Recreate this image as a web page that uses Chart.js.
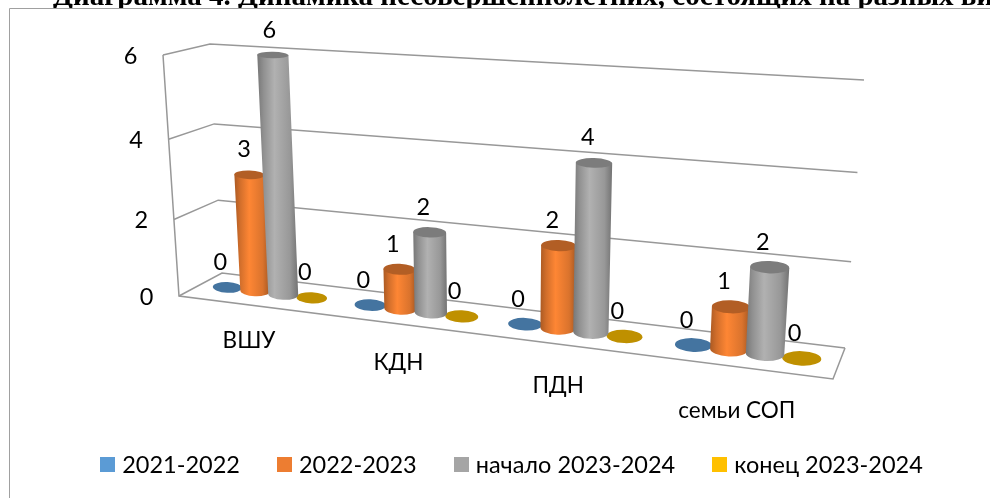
<!DOCTYPE html>
<html lang="ru">
<head>
<meta charset="utf-8">
<style>html,body{margin:0;padding:0;background:#fff}canvas{display:block}</style>
<script src="https://cdn.jsdelivr.net/npm/chart.js@4/dist/chart.umd.js"></script>
</head>
<body>
<canvas id="c" width="990" height="498"></canvas>
<script>
const categories = ['ВШУ', 'КДН', 'ПДН', 'семьи СОП'];
const series2122 = [0, 0, 0, 0];
const series2223 = [3, 1, 2, 1];
const seriesStart2324 = [6, 2, 4, 2];
const seriesEnd2324 = [0, 0, 0, 0];
const seriesNames = ['2021-2022', '2022-2023', 'начало 2023-2024', 'конец 2023-2024'];
const seriesColors = ['#5b9bd5', '#ed7d31', '#a5a5a5', '#ffc000'];
const yTicksStep = 2;
const yMax = 6;
const titleText = 'Диаграмма 4. Динамика несовершеннолетних, состоящих на разных видах учёта';

const FONT = 'Lato, "Open Sans", sans-serif';
const GRID = '#989898';
const labelNudgeX = [-20, -17, -16, -10];

// projective map from the unit square onto a quadrilateral (p00,p10,p11,p01)
function homography(p0, p1, p2, p3) {
  const sx = p0[0]-p1[0]+p2[0]-p3[0], sy = p0[1]-p1[1]+p2[1]-p3[1];
  const dx1 = p1[0]-p2[0], dx2 = p3[0]-p2[0], dy1 = p1[1]-p2[1], dy2 = p3[1]-p2[1];
  const det = dx1*dy2 - dx2*dy1;
  const g = (sx*dy2 - dx2*sy)/det, h = (dx1*sy - sx*dy1)/det;
  const a = p1[0]-p0[0]+g*p1[0], b = p3[0]-p0[0]+h*p3[0], c = p0[0];
  const d = p1[1]-p0[1]+g*p1[1], e = p3[1]-p0[1]+h*p3[1], f = p0[1];
  return (u, v) => {
    const w = g*u + h*v + 1;
    return {x: (a*u + b*v + c)/w, y: (d*u + e*v + f)/w};
  };
}
const backWall = homography([222,273],[845,348],[864,80],[210,44]);
const leftWall = homography([179,296],[222,273],[210,44],[163,55]);
const barPlane = homography([200,284],[839,363],[858,89],[186,50]);

function shade(hex, f) {
  const n = parseInt(hex.slice(1), 16);
  const ch = s => Math.min(255, Math.round(((n >> s) & 255)*f));
  return `rgb(${ch(16)},${ch(8)},${ch(0)})`;
}

let area = null;
const toU = px => (px - area.left)/(area.right - area.left);
const toV = py => (area.bottom - py)/(area.bottom - area.top);
const flat = v => 0.37 - 0.16*v;

function disc(a, b, v) {
  const cx = (a.x+b.x)/2, cy = (a.y+b.y)/2;
  const rx = Math.hypot(b.x-a.x, b.y-a.y)/2*1.05;
  const rot = Math.atan2(b.y-a.y, b.x-a.x)*0.35;
  return {cx, cy, rx, ry: rx*flat(v), rot,
    lx: cx - rx*Math.cos(rot), ly: cy - rx*Math.sin(rot),
    rx2: cx + rx*Math.cos(rot), ry2: cy + rx*Math.sin(rot)};
}

// Bars are drawn as perspective cylinders, using the element's own scale-derived geometry
const BarEl = Chart.registry.getElement('bar');
BarEl.prototype.draw = function (ctx) {
  const {x, y, base, width} = this.getProps(['x','y','base','width'], true);
  const color = this.options.backgroundColor;
  const uL = toU(x - width/2), uR = toU(x + width/2);
  const vT = toV(y), vB = toV(base);
  const be = disc(barPlane(uL, vB), barPlane(uR, vB), vB);
  const te = disc(barPlane(uL, vT), barPlane(uR, vT), vT);
  if (vT > vB + 1e-6) {
    const g = ctx.createLinearGradient(Math.min(be.lx,te.lx), 0, Math.max(be.rx2,te.rx2), 0);
    g.addColorStop(0, shade(color, .72));
    g.addColorStop(.16, shade(color, .88));
    g.addColorStop(.42, shade(color, 1.07));
    g.addColorStop(.8, shade(color, .92));
    g.addColorStop(1, shade(color, .7));
    ctx.beginPath();
    ctx.moveTo(te.lx, te.ly);
    ctx.lineTo(be.lx, be.ly);
    ctx.ellipse(be.cx, be.cy, be.rx, be.ry, be.rot, Math.PI, 0, true);
    ctx.lineTo(te.rx2, te.ry2);
    ctx.closePath();
    ctx.fillStyle = g;
    ctx.fill();
  }
  ctx.beginPath();
  ctx.ellipse(te.cx, te.cy, te.rx, te.ry, te.rot, 0, Math.PI*2);
  ctx.fillStyle = shade(color, .75);
  ctx.fill();
};

const scene = {
  id: 'scene',
  beforeDraw(chart) {
    area = chart.chartArea;
    const ctx = chart.ctx;
    ctx.save();
    ctx.fillStyle = '#fff';
    ctx.fillRect(0, 0, 990, 498);
    ctx.fillStyle = '#000';
    ctx.font = 'bold 29px "Liberation Serif", serif';
    ctx.textBaseline = 'alphabetic';
    ctx.textAlign = 'left';
    ctx.fillText(titleText, 53, 5);
    ctx.fillStyle = '#fff';
    ctx.fillRect(0, 8, 990, 490);
    ctx.strokeStyle = '#a0a0a0';
    ctx.lineWidth = 1;
    ctx.beginPath();
    ctx.moveTo(9.5, 498);
    ctx.lineTo(9.5, 8.5);
    ctx.lineTo(990, 8.5);
    ctx.stroke();
    ctx.restore();
  },
  beforeDatasetsDraw(chart) {
    const ctx = chart.ctx, yS = chart.scales.y, xS = chart.scales.x;
    ctx.save();
    ctx.strokeStyle = GRID;
    ctx.lineWidth = 1.5;
    ctx.lineJoin = 'miter';
    // walls: one slanted grid line per y tick
    yS.ticks.forEach(t => {
      const v = toV(yS.getPixelForValue(t.value));
      const a = leftWall(0, v), b = leftWall(1, v), c = backWall(1, v);
      ctx.beginPath();
      ctx.moveTo(a.x, a.y);
      ctx.lineTo(b.x, b.y);
      ctx.lineTo(c.x, c.y);
      ctx.stroke();
    });
    // front-left edge and floor outline
    const f0 = leftWall(0, 0), f1 = leftWall(0, 1);
    ctx.beginPath();
    ctx.moveTo(f1.x, f1.y);
    ctx.lineTo(f0.x, f0.y);
    const br = backWall(1, 0);
    ctx.lineTo(833, 379);
    ctx.lineTo(br.x, br.y);
    ctx.stroke();

    // y tick labels
    ctx.fillStyle = '#000';
    ctx.font = '23.5px ' + FONT;
    ctx.textAlign = 'center';
    ctx.textBaseline = 'middle';
    yS.ticks.forEach(t => {
      const v = toV(yS.getPixelForValue(t.value));
      const p = leftWall(0, v);
      ctx.fillText(String(t.value), p.x - 32.5, p.y + 1);
    });
    // category labels
    ctx.font = '22.5px ' + FONT;
    categories.forEach((name, i) => {
      const u = toU(xS.getPixelForValue(i));
      const p = barPlane(u, 0);
      ctx.fillText(name, p.x + labelNudgeX[i], p.y + 46 + 15*u);
    });

    // datasets, flat ones first so the cylinders sit on top
    [0, 3, 1, 2].forEach(i => {
      chart.getDatasetMeta(i).data.forEach(el => el.draw(ctx));
    });

    // value labels
    ctx.font = '23.5px ' + FONT;
    ctx.fillStyle = '#000';
    chart.data.datasets.forEach((ds, i) => {
      chart.getDatasetMeta(i).data.forEach((el, j) => {
        const u = toU(el.x), v = toV(el.y);
        const p = barPlane(u, v);
        ctx.fillText(String(ds.data[j]), p.x - 7 + 4*v*(1-u), p.y - 25);
      });
    });

    // legend
    const legendY = 465, boxSize = 15, boxGap = 7, itemGap = 37;
    ctx.font = '23.5px ' + FONT;
    ctx.textAlign = 'left';
    const widths = seriesNames.map(n => ctx.measureText(n).width);
    const total = widths.reduce((s, w) => s + w + boxSize + boxGap, 0) + itemGap*(seriesNames.length - 1);
    let lx = 511.5 - total/2;
    seriesNames.forEach((n, i) => {
      ctx.fillStyle = seriesColors[i];
      ctx.fillRect(Math.round(lx), legendY - 8, boxSize, boxSize);
      ctx.fillStyle = '#000';
      ctx.fillText(n, lx + boxSize + boxGap, legendY);
      lx += boxSize + boxGap + widths[i] + itemGap;
    });
    ctx.restore();
    return false;
  }
};

new Chart(document.getElementById('c'), {
  type: 'bar',
  data: {
    labels: categories,
    datasets: [
      {label: seriesNames[0], data: series2122, backgroundColor: seriesColors[0]},
      {label: seriesNames[1], data: series2223, backgroundColor: seriesColors[1]},
      {label: seriesNames[2], data: seriesStart2324, backgroundColor: seriesColors[2]},
      {label: seriesNames[3], data: seriesEnd2324, backgroundColor: seriesColors[3]}
    ]
  },
  options: {
    responsive: false,
    animation: false,
    devicePixelRatio: 1,
    layout: {padding: {left: 200, right: 150, top: 50, bottom: 135}},
    datasets: {bar: {barPercentage: 1, categoryPercentage: 0.8}},
    plugins: {legend: {display: false}, tooltip: {enabled: false}, title: {display: false}},
    scales: {
      x: {display: false},
      y: {display: false, min: 0, max: yMax, ticks: {stepSize: yTicksStep}}
    }
  },
  plugins: [scene]
});
</script>
</body>
</html>
